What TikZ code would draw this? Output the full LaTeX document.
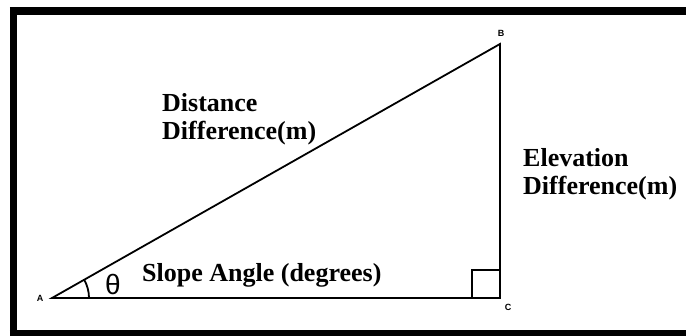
\documentclass[tikz,border=0pt]{standalone}
\usepackage{fontspec}
\setmainfont{Liberation Serif}
\newfontfamily\vtxfont{Liberation Sans}
\usetikzlibrary{positioning,calc}
\definecolor{ink}{HTML}{000000}
\tikzset{
  frame/.style   = {draw=ink, line width=7.5pt, line cap=butt},
  side/.style    = {draw=ink, line width=1.8pt, line join=miter},
  vtx/.style     = {font=\vtxfont\bfseries\fontsize{9}{9}\selectfont, text=ink, inner sep=0pt},
  caption/.style = {font=\bfseries\fontsize{26}{28}\selectfont, text=ink,
                    align=left, inner sep=0pt, anchor=base west},
}

\begin{document}
\begin{tikzpicture}[x=1pt,y=-1pt]
  \useasboundingbox (0,0) rectangle (686,336);
  \draw[frame] (13.5,7.25) -- (13.5,337.75);
  \draw[frame] (9.75,11) -- (686,11);
  \draw[frame] (9.75,334) -- (686,334);
  % triangle
  \coordinate (A) at (52,298);
  \coordinate (B) at (500,44);
  \coordinate (C) at (500,298);
  \draw[side] (A) -- (B) -- (C) -- cycle;
  \draw[side] ($(C)+(-28,0)$) -- ++(0,-28) -- ++(28,0);
  \draw[side] ([shift={(0:37)}]A) arc[start angle=0, end angle=-29.55, radius=37];
  % labels
  \node[vtx] (labA) at (40,298) {A};
  \node[vtx] (labB) at (501,33) {B};
  \node[vtx] (labC) at (508,307) {C};
  \node[font=\vtxfont\fontsize{28}{28}\selectfont, inner sep=0pt] (theta) at (113,285) {θ};
  \node[caption] (dist) at (162,140) {Distance\\Difference(m)};
  \node[caption] (elev) at (523,195) {Elevation\\Difference(m)};
  \node[caption] (slope) at (142,282) {Slope Angle (degrees)};
\end{tikzpicture}
\end{document}
